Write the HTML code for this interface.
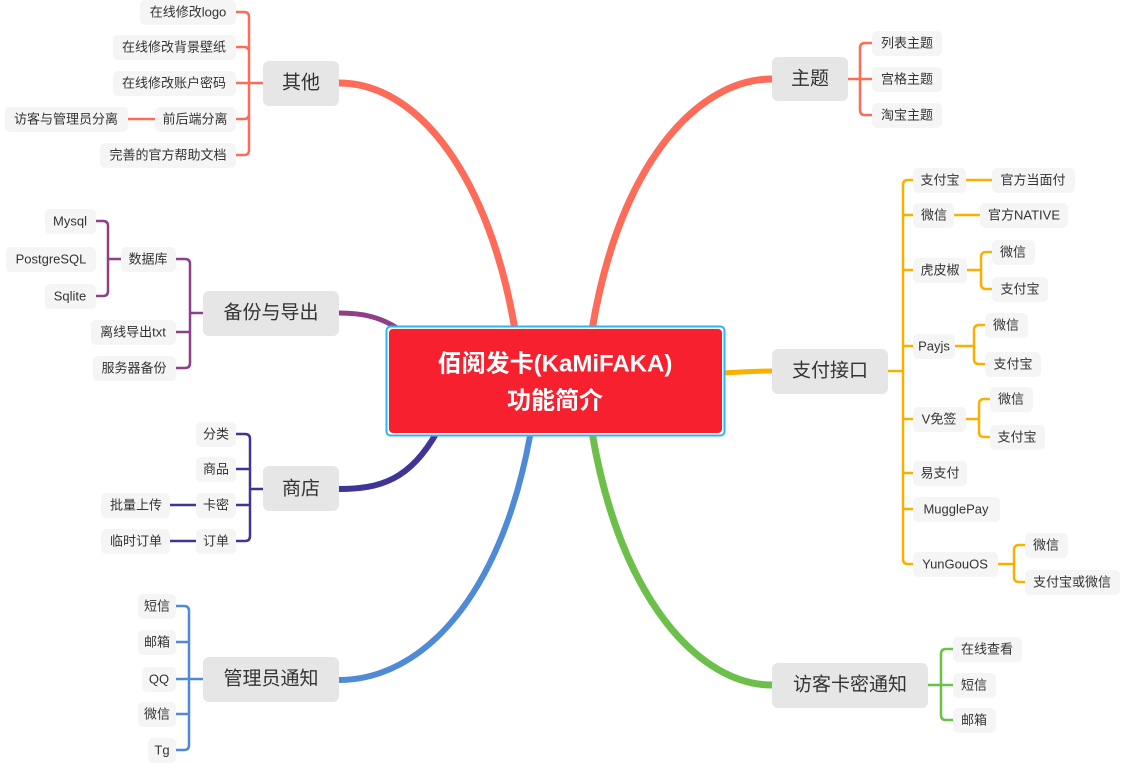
<!DOCTYPE html>
<html><head><meta charset="utf-8"><style>
body{margin:0;background:#fff;}
svg{display:block;font-family:"Liberation Sans","Noto Sans CJK SC",sans-serif;}
.l{fill:#f5f5f5;}
.m{fill:#e6e6e6;}
.lt{font-size:13px;fill:#333;text-anchor:middle;dominant-baseline:central;}
.mt{font-size:19px;fill:#333;text-anchor:middle;dominant-baseline:central;}
path{fill:none;stroke-linecap:round;stroke-linejoin:round;}
</style></head><body>
<svg width="1129" height="772" viewBox="0 0 1129 772">
<!-- main curves -->
<path d="M515 330 C490 180,420 83,339 83" stroke="#fe6b58" stroke-width="7"/>
<path d="M592 330 C620 160,700 79,772 79" stroke="#fe6b58" stroke-width="7"/>
<path d="M722 373 C740 372,755 371,772 371" stroke="#fbb000" stroke-width="5"/>
<path d="M592 432 C620 600,700 685,772 685" stroke="#6cc04a" stroke-width="7"/>
<path d="M530 436 C500 600,420 680,339 680" stroke="#4f8ad6" stroke-width="6"/>
<path d="M437 432 C410 480,380 489,339 489" stroke="#3f3597" stroke-width="6"/>
<path d="M400 330 C380 316,360 313,339 313" stroke="#8e3f88" stroke-width="5"/>

<g stroke-width="2.5">
<!-- 其他 -->
<g stroke="#fe6b58">
<path d="M263 83 H236 M236 12 H244 Q249 12 249 17 V150 Q249 155 244 155 H236 M236 47 H244 Q249 47 249 52 M236 119 H244 Q249 119 249 114 M128 119 H155"/>
</g>
<!-- 主题 -->
<g stroke="#fe6b58">
<path d="M848 79 H872 M872 43 H865 Q860 43 860 48 V110 Q860 115 865 115 H872"/>
</g>
<!-- 支付接口 -->
<g stroke="#fbb000">
<path d="M888 371 H903 M913 180 H908 Q903 180 903 185 V559 Q903 564 908 564 H913
M903 215 H913 M903 270 H913 M903 346 H913 M903 419 H913 M903 473 H913 M903 509 H913
M966 180 H992 M954 215 H980
M967 270 H980 M992 252 H986 Q981 252 981 257 V284 Q981 289 986 289 H992
M955 346 H973 M985 325 H979 Q974 325 974 330 V359 Q974 364 979 364 H985
M966 419 H978 M990 399 H984 Q979 399 979 404 V432 Q979 437 984 437 H990
M998 564 H1013 M1025 545 H1019 Q1014 545 1014 550 V577 Q1014 582 1019 582 H1025"/>
</g>
<!-- 访客卡密通知 -->
<g stroke="#6cc04a">
<path d="M928 685 H953 M953 649 H946 Q941 649 941 654 V715 Q941 720 946 720 H953"/>
</g>
<!-- 管理员通知 -->
<g stroke="#4f8ad6">
<path d="M203 679 H189 M176 606 H184 Q189 606 189 611 V745 Q189 750 184 750 H176 M176 642 H189 M176 679 H189 M176 714 H189"/>
</g>
<!-- 商店 -->
<g stroke="#3f3597">
<path d="M263 489 H250 M236 434 H245 Q250 434 250 439 V536 Q250 541 245 541 H236 M236 469 H250 M236 505 H250 M170 505 H196 M170 541 H196"/>
</g>
<!-- 备份 -->
<g stroke="#8e3f88">
<path d="M203 313 H190 M176 259 H185 Q190 259 190 264 V363 Q190 368 185 368 H176 M176 332 H190
M121 259 H108 M96 221 H103 Q108 221 108 226 V291 Q108 296 103 296 H96"/>
</g>
</g>

<!-- center -->
<rect x="386.5" y="326.5" width="338" height="109" rx="4" fill="#fff" stroke="#2bb7f0" stroke-width="2"/>
<rect x="389" y="329" width="333" height="104" rx="4" fill="#f7202f"/>
<text x="555" y="364" font-size="24" font-weight="bold" fill="#fff" text-anchor="middle" dominant-baseline="central">佰阅发卡(KaMiFAKA)</text>
<text x="555" y="401" font-size="24" font-weight="bold" fill="#fff" text-anchor="middle" dominant-baseline="central">功能简介</text>

<!-- main nodes -->
<rect class="m" x="263" y="61" width="76" height="45" rx="6"/><text class="mt" x="301" y="83">其他</text>
<rect class="m" x="772" y="57" width="76" height="44" rx="6"/><text class="mt" x="810" y="79">主题</text>
<rect class="m" x="772" y="349" width="116" height="45" rx="6"/><text class="mt" x="830" y="371">支付接口</text>
<rect class="m" x="772" y="663" width="156" height="45" rx="6"/><text class="mt" x="850" y="685">访客卡密通知</text>
<rect class="m" x="203" y="657" width="136" height="45" rx="6"/><text class="mt" x="271" y="679">管理员通知</text>
<rect class="m" x="263" y="466" width="76" height="45" rx="6"/><text class="mt" x="301" y="489">商店</text>
<rect class="m" x="203" y="291" width="136" height="45" rx="6"/><text class="mt" x="271" y="313">备份与导出</text>

<!-- leaves -->
<g>
<rect class="l" x="140" y="0" width="96" height="25" rx="5"/><text class="lt" x="188" y="12">在线修改logo</text>
<rect class="l" x="113" y="35" width="123" height="25" rx="5"/><text class="lt" x="174" y="47">在线修改背景壁纸</text>
<rect class="l" x="113" y="71" width="123" height="25" rx="5"/><text class="lt" x="174" y="83">在线修改账户密码</text>
<rect class="l" x="155" y="107" width="81" height="25" rx="5"/><text class="lt" x="195" y="119">前后端分离</text>
<rect class="l" x="5" y="107" width="123" height="25" rx="5"/><text class="lt" x="66" y="119">访客与管理员分离</text>
<rect class="l" x="100" y="143" width="136" height="25" rx="5"/><text class="lt" x="168" y="155">完善的官方帮助文档</text>

<rect class="l" x="872" y="31" width="70" height="25" rx="5"/><text class="lt" x="907" y="43">列表主题</text>
<rect class="l" x="872" y="67" width="70" height="25" rx="5"/><text class="lt" x="907" y="79">宫格主题</text>
<rect class="l" x="872" y="103" width="70" height="25" rx="5"/><text class="lt" x="907" y="115">淘宝主题</text>

<rect class="l" x="913" y="168" width="53" height="25" rx="5"/><text class="lt" x="940" y="180">支付宝</text>
<rect class="l" x="992" y="168" width="83" height="25" rx="5"/><text class="lt" x="1033" y="180">官方当面付</text>
<rect class="l" x="913" y="203" width="41" height="25" rx="5"/><text class="lt" x="934" y="215">微信</text>
<rect class="l" x="980" y="203" width="88" height="25" rx="5"/><text class="lt" x="1024" y="215">官方NATIVE</text>
<rect class="l" x="913" y="258" width="54" height="25" rx="5"/><text class="lt" x="940" y="270">虎皮椒</text>
<rect class="l" x="992" y="240" width="43" height="25" rx="5"/><text class="lt" x="1013" y="252">微信</text>
<rect class="l" x="992" y="277" width="56" height="25" rx="5"/><text class="lt" x="1020" y="289">支付宝</text>
<rect class="l" x="913" y="334" width="42" height="25" rx="5"/><text class="lt" x="934" y="346">Payjs</text>
<rect class="l" x="985" y="313" width="43" height="25" rx="5"/><text class="lt" x="1006" y="325">微信</text>
<rect class="l" x="985" y="352" width="56" height="25" rx="5"/><text class="lt" x="1013" y="364">支付宝</text>
<rect class="l" x="913" y="407" width="53" height="25" rx="5"/><text class="lt" x="939" y="419">V免签</text>
<rect class="l" x="990" y="387" width="43" height="25" rx="5"/><text class="lt" x="1011" y="399">微信</text>
<rect class="l" x="990" y="425" width="55" height="25" rx="5"/><text class="lt" x="1017" y="437">支付宝</text>
<rect class="l" x="913" y="461" width="54" height="25" rx="5"/><text class="lt" x="940" y="473">易支付</text>
<rect class="l" x="913" y="497" width="87" height="25" rx="5"/><text class="lt" x="956" y="509">MugglePay</text>
<rect class="l" x="913" y="552" width="85" height="25" rx="5"/><text class="lt" x="955" y="564">YunGouOS</text>
<rect class="l" x="1025" y="533" width="43" height="25" rx="5"/><text class="lt" x="1046" y="545">微信</text>
<rect class="l" x="1025" y="570" width="95" height="25" rx="5"/><text class="lt" x="1072" y="582">支付宝或微信</text>

<rect class="l" x="953" y="637" width="69" height="25" rx="5"/><text class="lt" x="987" y="649">在线查看</text>
<rect class="l" x="953" y="673" width="43" height="25" rx="5"/><text class="lt" x="974" y="685">短信</text>
<rect class="l" x="953" y="708" width="43" height="25" rx="5"/><text class="lt" x="974" y="720">邮箱</text>

<rect class="l" x="138" y="594" width="38" height="25" rx="5"/><text class="lt" x="157" y="606">短信</text>
<rect class="l" x="138" y="630" width="38" height="25" rx="5"/><text class="lt" x="157" y="642">邮箱</text>
<rect class="l" x="142" y="667" width="34" height="25" rx="5"/><text class="lt" x="159" y="679">QQ</text>
<rect class="l" x="138" y="702" width="38" height="25" rx="5"/><text class="lt" x="157" y="714">微信</text>
<rect class="l" x="148" y="738" width="28" height="25" rx="5"/><text class="lt" x="162" y="750">Tg</text>

<rect class="l" x="196" y="422" width="40" height="25" rx="5"/><text class="lt" x="216" y="434">分类</text>
<rect class="l" x="196" y="457" width="40" height="25" rx="5"/><text class="lt" x="216" y="469">商品</text>
<rect class="l" x="196" y="493" width="40" height="25" rx="5"/><text class="lt" x="216" y="505">卡密</text>
<rect class="l" x="196" y="529" width="40" height="25" rx="5"/><text class="lt" x="216" y="541">订单</text>
<rect class="l" x="101" y="493" width="69" height="25" rx="5"/><text class="lt" x="136" y="505">批量上传</text>
<rect class="l" x="101" y="529" width="69" height="25" rx="5"/><text class="lt" x="136" y="541">临时订单</text>

<rect class="l" x="121" y="247" width="55" height="25" rx="5"/><text class="lt" x="148" y="259">数据库</text>
<rect class="l" x="91" y="320" width="85" height="25" rx="5"/><text class="lt" x="133" y="332">离线导出txt</text>
<rect class="l" x="93" y="356" width="83" height="25" rx="5"/><text class="lt" x="134" y="368">服务器备份</text>
<rect class="l" x="45" y="209" width="51" height="25" rx="5"/><text class="lt" x="70" y="221">Mysql</text>
<rect class="l" x="6" y="247" width="90" height="25" rx="5"/><text class="lt" x="51" y="259">PostgreSQL</text>
<rect class="l" x="45" y="284" width="51" height="25" rx="5"/><text class="lt" x="70" y="296">Sqlite</text>
</g>
</svg>
</body></html>
